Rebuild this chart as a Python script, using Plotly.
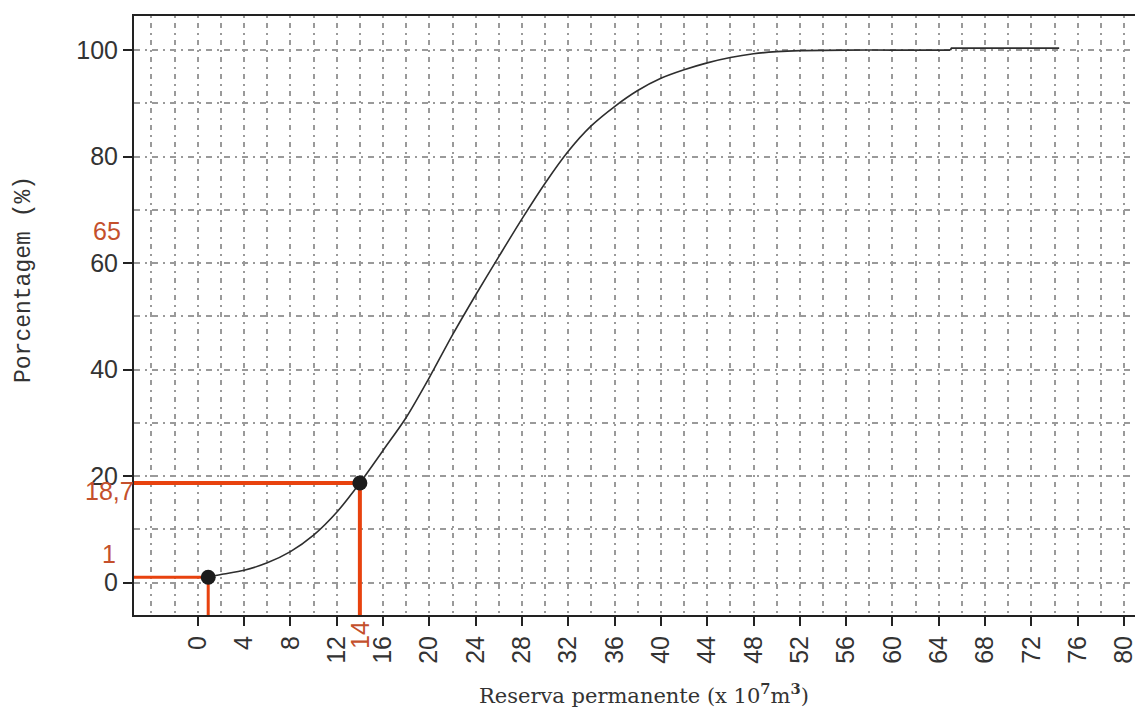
import plotly.graph_objects as go

# Cumulative curve
curve_x = [0.9, 2, 4, 6, 8, 10, 12, 14, 16, 18, 20, 22, 24, 26, 28, 30, 32, 34, 36, 38,
           40, 42, 44, 46, 48, 50, 52, 56, 60, 65]
curve_y = [1.0, 1.5, 2.3, 3.7, 5.8, 8.9, 13.2, 18.7, 24.8, 31.0, 38.5, 46.5, 54.0, 61.2, 68.3, 75.0, 81.0, 85.8, 89.4, 92.4,
           94.7, 96.3, 97.6, 98.6, 99.3, 99.7, 99.9, 100, 100, 100]
# small step at the end of the curve
tail_x = [65, 65.1, 74.4]
tail_y = [100, 100.35, 100.35]

# highlighted points
pts_x = [0.9, 14]
pts_y = [1, 18.7]

x_ticks = list(range(0, 81, 4))
y_ticks = [0, 20, 40, 60, 80, 100]

X_MIN, X_MAX = -5.51, 80.95
Y_MIN, Y_MAX = -6.1, 106.4

RED = "#e8420e"
RED_TXT = "#c4502c"

fig = go.Figure()

# red guide lines
fig.add_trace(go.Scatter(x=[X_MIN, pts_x[1], pts_x[1]], y=[pts_y[1], pts_y[1], Y_MIN],
                         mode="lines", line=dict(color=RED, width=4), hoverinfo="skip"))
fig.add_trace(go.Scatter(x=[X_MIN, pts_x[0], pts_x[0]], y=[pts_y[0], pts_y[0], Y_MIN],
                         mode="lines", line=dict(color=RED, width=3), hoverinfo="skip"))

# curve
fig.add_trace(go.Scatter(x=curve_x, y=curve_y, mode="lines",
                         line=dict(color="#2e2e2e", width=1.6, shape="spline", smoothing=0.8),
                         hoverinfo="skip"))
fig.add_trace(go.Scatter(x=tail_x, y=tail_y, mode="lines",
                         line=dict(color="#2e2e2e", width=1.8), hoverinfo="skip"))

# points
fig.add_trace(go.Scatter(x=pts_x, y=pts_y, mode="markers",
                         marker=dict(color="#1c1c1c", size=15), hoverinfo="skip", cliponaxis=False))

tickfont = dict(family="Liberation Sans, Arial, sans-serif", size=25, color="#333333")
gridcol = "#9a9a9a"

fig.update_xaxes(range=[X_MIN, X_MAX], tickmode="array", tickvals=x_ticks, ticktext=[str(v) for v in x_ticks],
                 tickangle=-90, tickfont=tickfont, ticks="outside", ticklen=9, tickwidth=1.5, tickcolor="#222",
                 ticklabeloverflow="allow",
                 showline=True, linecolor="#222", linewidth=2, mirror=True,
                 showgrid=True, gridcolor=gridcol, gridwidth=1.5, griddash="2px,5px,5px,5px",
                 zeroline=False,
                 minor=dict(dtick=2, tick0=0, showgrid=True, gridcolor=gridcol, gridwidth=1.5,
                            griddash="2px,5px,5px,5px", ticks=""))
fig.update_yaxes(range=[Y_MIN, Y_MAX], tickmode="array", tickvals=y_ticks, ticktext=[str(v) for v in y_ticks],
                 tickfont=tickfont, ticks="outside", ticklen=9, tickwidth=1.5, tickcolor="#222",
                 ticklabeloverflow="allow",
                 showline=True, linecolor="#222", linewidth=2, mirror=False,
                 showgrid=True, gridcolor=gridcol, gridwidth=1.5, griddash="6px,5px,2px,5px",
                 zeroline=False,
                 minor=dict(dtick=10, tick0=0, showgrid=True, gridcolor=gridcol, gridwidth=1.5,
                            griddash="6px,5px,2px,5px", ticks=""))

redfont = dict(family="Liberation Sans, Arial", size=25, color=RED_TXT)
annotations = [
    dict(text="65", xref="paper", yref="y", x=0, y=66, xanchor="right", yanchor="middle", xshift=-11,
         showarrow=False, font=redfont),
    dict(text="18,7", xref="paper", yref="y", x=0, y=17.2, xanchor="right", yanchor="middle", xshift=2,
         showarrow=False, font=redfont),
    dict(text="1", xref="paper", yref="y", x=0, y=5.3, xanchor="right", yanchor="middle", xshift=-16,
         showarrow=False, font=redfont),
    dict(text="14", xref="x", yref="paper", x=14, y=0, xanchor="center", yanchor="top", yshift=-4,
         textangle=-90, showarrow=False, font=redfont),
    dict(text="Reserva permanente (x 10<sup><b>7</b></sup>m<sup><b>3</b></sup>)", xref="paper", yref="paper",
         x=(645 - 134) / 1003, y=0, xanchor="center", yanchor="middle", yshift=-79,
         showarrow=False, font=dict(family="DejaVu Serif, Liberation Serif, serif", size=21, color="#333")),
    dict(text="Porcentagem (%)", xref="paper", yref="paper", x=0, y=(615 - 280) / 599,
         xanchor="center", yanchor="middle", xshift=-110, textangle=-90,
         showarrow=False, font=dict(family="Liberation Mono, Courier New, monospace", size=23, color="#333")),
]

fig.update_layout(width=1137, height=711, margin=dict(l=134, r=0, t=16, b=96),
                  paper_bgcolor="white", plot_bgcolor="white", showlegend=False,
                  annotations=annotations)

fig.write_html("out.html", config={"displayModeBar": False})
